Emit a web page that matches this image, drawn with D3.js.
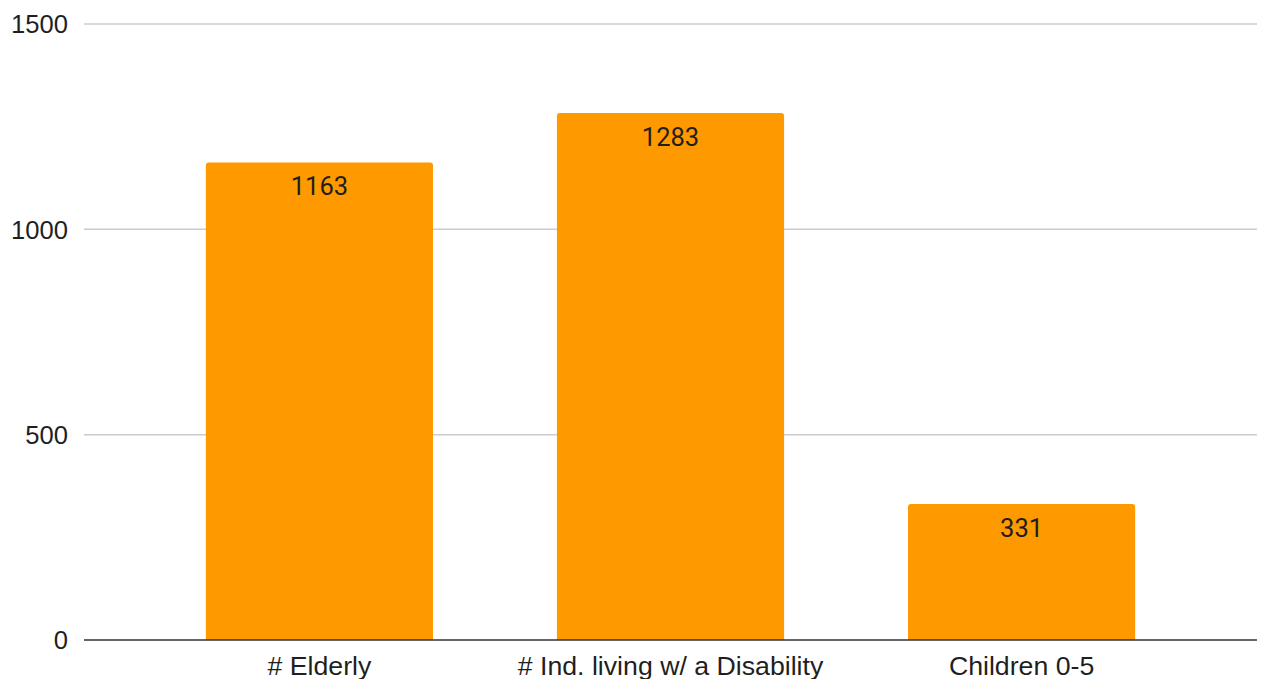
<!DOCTYPE html>
<html>
<head>
<meta charset="utf-8">
<script src="https://cdn.jsdelivr.net/npm/d3@7"></script>
<style>
  html, body { margin: 0; padding: 0; background: #fff; overflow: hidden; }
  svg { display: block; }
</style>
</head>
<body>
<svg id="chart" width="1262" height="679"></svg>
<script>
const categories = ["# Elderly", "# Ind. living w/ a Disability", "Children 0-5"];
const values = [1163, 1283, 331];
const yTicks = [0, 500, 1000, 1500];

const svg = d3.select("#chart");
const plotLeft = 84, plotRight = 1257, plotTop = 24, plotBottom = 640;

const x = d3.scaleBand().domain(categories).range([plotLeft, plotRight])
  .paddingInner(0.353).paddingOuter(0.347);
const y = d3.scaleLinear().domain([0, 1500]).range([plotBottom, plotTop]);

// gridlines
svg.append("g").selectAll("line").data(yTicks.filter(d => d !== 0)).join("line")
  .attr("x1", plotLeft).attr("x2", plotRight)
  .attr("y1", d => y(d)).attr("y2", d => y(d))
  .attr("stroke", "#cccccc").attr("stroke-width", 1.5);

// y tick labels
svg.append("g").selectAll("text").data(yTicks).join("text")
  .attr("x", 68).attr("y", d => y(d)).attr("dy", "0.36em")
  .attr("text-anchor", "end")
  .attr("font-family", "'Liberation Sans', Arial, sans-serif")
  .attr("font-size", 25.6).attr("fill", "#1f1f1f")
  .text(d => d);

// bars with rounded top corners
const r = 3;
svg.append("g").selectAll("path").data(values).join("path")
  .attr("d", (d, i) => {
    const x0 = x(categories[i]), w = x.bandwidth();
    const y0 = y(d), y1 = y(0);
    return `M${x0},${y1} L${x0},${y0 + r} Q${x0},${y0} ${x0 + r},${y0} L${x0 + w - r},${y0} Q${x0 + w},${y0} ${x0 + w},${y0 + r} L${x0 + w},${y1} Z`;
  })
  .attr("fill", "#ff9900");

// value labels
svg.append("g").selectAll("text").data(values).join("text")
  .attr("x", (d, i) => x(categories[i]) + x.bandwidth() / 2)
  .attr("y", d => y(d) + 33)
  .attr("text-anchor", "middle")
  .attr("font-family", "Roboto, sans-serif")
  .attr("font-size", 25.5).attr("fill", "#1f1f1f")
  .text(d => d);

// baseline
svg.append("line").attr("x1", plotLeft).attr("x2", plotRight)
  .attr("y1", y(0)).attr("y2", y(0))
  .attr("stroke", "#333").attr("stroke-width", 1.5);

// category labels
svg.append("g").selectAll("text").data(categories).join("text")
  .attr("x", d => x(d) + x.bandwidth() / 2)
  .attr("y", 675)
  .attr("text-anchor", "middle")
  .attr("font-family", "'Liberation Sans', Arial, sans-serif")
  .attr("font-size", 26.7).attr("fill", "#1f1f1f")
  .text(d => d);
</script>
</body>
</html>
